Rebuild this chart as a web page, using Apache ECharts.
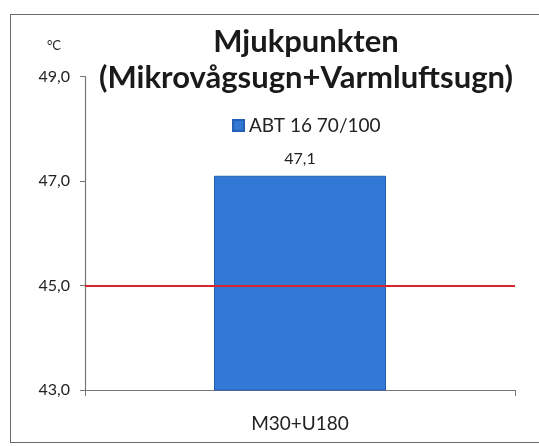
<!DOCTYPE html>
<html>
<head>
<meta charset="utf-8">
<script src="https://cdn.jsdelivr.net/npm/echarts@6/dist/echarts.min.js"></script>
<style>
html,body{margin:0;padding:0;background:#fff;}
#frame{position:absolute;left:10px;top:14px;width:540px;height:429px;border:1.5px solid #6a6a6a;box-sizing:border-box;}
#chart{position:absolute;left:0;top:0;width:539px;height:446px;}
</style>
</head>
<body>
<div id="frame"></div>
<div id="chart"></div>
<script>
const titleLines = ['Mjukpunkten', '(Mikrovågsugn+Varmluftsugn)'];
const categories = ['M30+U180'];
const seriesName = 'ABT 16 70/100';
const values = [47.1];
const referenceValue = 45.0;
const yMin = 43, yMax = 49, yStep = 2;
const unit = '°C';

const fmt = v => v.toFixed(1).replace('.', ',');
const font = 'Lato, "Open Sans", sans-serif';

const chart = echarts.init(document.getElementById('chart'), null, {renderer: 'canvas'});
chart.setOption({
  backgroundColor: 'transparent',
  animation: false,
  textStyle: {fontFamily: font},
  title: {
    text: titleLines.join('\n'),
    left: 306,
    textAlign: 'center',
    top: 24,
    padding: 0,
    textStyle: {fontSize: 31, fontWeight: 'bold', color: '#1a1a1a', lineHeight: 36, fontFamily: font}
  },
  legend: {
    data: [seriesName],
    top: 116,
    left: 232,
    padding: 0,
    icon: 'rect',
    itemWidth: 11,
    itemHeight: 11,
    itemGap: 8,
    textStyle: {fontSize: 19, color: '#222', fontFamily: font}
  },
  grid: {left: 85, right: 24, top: 76.5, bottom: 56, containLabel: false},
  xAxis: {
    type: 'category',
    data: categories,
    axisLine: {lineStyle: {color: '#777', width: 1.2}},
    axisTick: {show: true, alignWithLabel: false, length: 6, lineStyle: {color: '#777'}},
    axisLabel: {fontSize: 19, color: '#222', margin: 24, fontFamily: font}
  },
  yAxis: {
    type: 'value',
    min: yMin, max: yMax, interval: yStep,
    name: unit,
    nameLocation: 'end',
    nameGap: 24,
    nameTextStyle: {fontSize: 13, color: '#222', align: 'right', padding: [0, 24, 0, 0]},
    axisLine: {show: true, lineStyle: {color: '#777', width: 1.2}},
    axisTick: {show: true, length: 5, lineStyle: {color: '#777'}},
    splitLine: {show: false},
    axisLabel: {fontSize: 16, color: '#222', margin: 15, formatter: fmt, fontFamily: font}
  },
  series: [{
    name: seriesName,
    type: 'bar',
    data: values,
    barWidth: '40%',
    itemStyle: {color: '#3279d6', borderColor: '#2461b5', borderWidth: 1},
    label: {show: true, position: 'top', distance: 9, fontSize: 16, color: '#222', formatter: p => fmt(p.value), fontFamily: font},
    markLine: {
      silent: true,
      symbol: 'none',
      label: {show: false},
      lineStyle: {color: '#d8262c', width: 2, type: 'solid'},
      data: [{yAxis: referenceValue}]
    }
  }]
});
</script>
</body>
</html>
